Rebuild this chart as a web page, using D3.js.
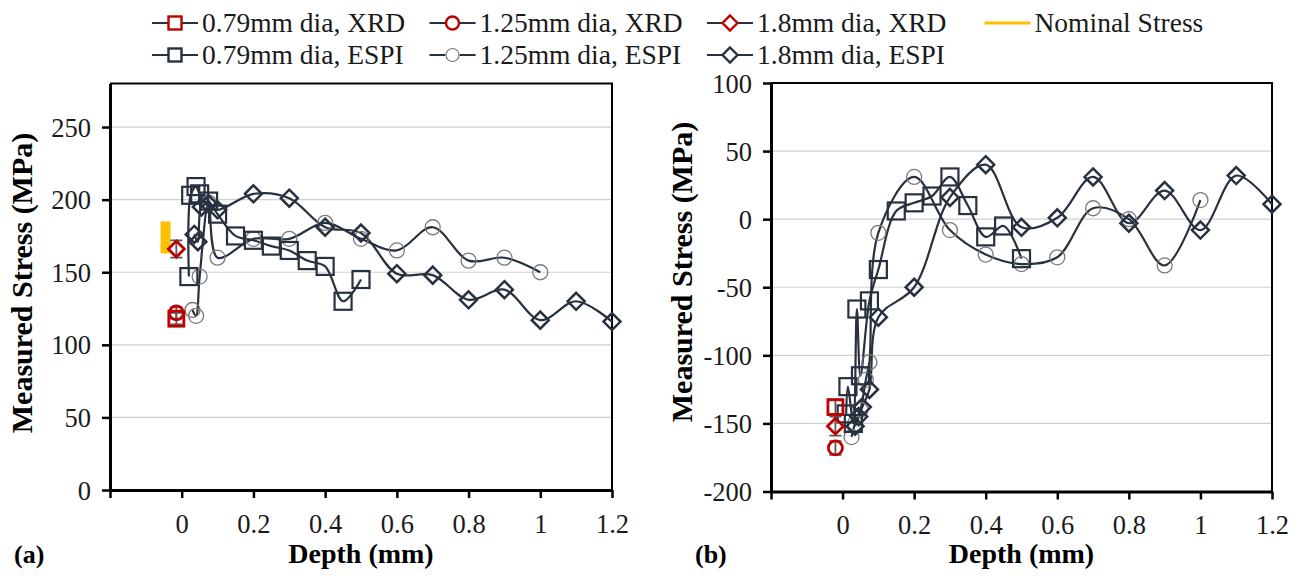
<!DOCTYPE html>
<html>
<head>
<meta charset="utf-8">
<script src="https://cdn.jsdelivr.net/npm/d3@7"></script>
<style>
  html, body { margin: 0; padding: 0; background: #fff; }
  svg { display: block; }
  svg text { font-family: "Liberation Serif", "Times New Roman", serif; }
</style>
</head>
<body>
<svg id="chart" width="1301" height="576"></svg>
<script>
// ---- Data -------------------------------------------------------------
const xTicks = [-0.2, 0, 0.2, 0.4, 0.6, 0.8, 1, 1.2];
const yTicksA = [0, 50, 100, 150, 200, 250];
const yTicksB = [-200, -150, -100, -50, 0, 50, 100];

// Panel (a) — depth (mm), measured stress (MPa)
const a_xrd079 = [{x: -0.015, y: 118, e: 4}];
const a_xrd125 = [{x: -0.015, y: 122, e: 4}];
const a_xrd18  = [{x: -0.015, y: 166, e: 6}];
const a_nominal = [{x: -0.045, y: 163}, {x: -0.045, y: 185}];
const a_espi079 = [[0.02,147],[0.025,203],[0.04,209],[0.05,204],[0.075,199],[0.1,190],[0.15,175],[0.2,172],
                   [0.25,168],[0.3,165],[0.35,158],[0.4,154],[0.45,130],[0.5,145]];
const a_espi125 = [[0.03,124],[0.04,120],[0.05,147],[0.075,198],[0.1,160],[0.2,173],[0.3,173],[0.4,184],
                   [0.5,173],[0.6,165],[0.7,181],[0.8,158],[0.9,160],[1.0,150]];
const a_espi18  = [[0.035,176],[0.045,171],[0.055,195],[0.075,197],[0.1,193],[0.2,204],[0.3,201],[0.4,181],
                   [0.5,177],[0.6,149],[0.7,148],[0.8,131],[0.9,138],[1.0,117],[1.1,130],[1.2,116]];

// Panel (b)
const b_xrd079 = [{x: -0.02, y: -138, e: 5}];
const b_xrd125 = [{x: -0.02, y: -168, e: 5}];
const b_xrd18  = [{x: -0.02, y: -152, e: 7}];
const b_espi079 = [[0.01,-143],[0.015,-123],[0.03,-150],[0.04,-66],[0.05,-115],[0.075,-60],[0.1,-37],
                   [0.15,6],[0.2,12],[0.25,17],[0.3,31],[0.35,10],[0.4,-13],[0.45,-5],[0.5,-29]];
const b_espi125 = [[0.025,-160],[0.035,-150],[0.05,-140],[0.065,-118],[0.075,-105],[0.1,-10],[0.2,31],
                   [0.3,-8],[0.4,-26],[0.5,-33],[0.6,-28],[0.7,8],[0.8,0],[0.9,-34],[1.0,14]];
const b_espi18  = [[0.035,-152],[0.045,-145],[0.055,-138],[0.075,-125],[0.1,-72],[0.2,-50],[0.3,16],
                   [0.4,40],[0.5,-6],[0.6,1],[0.7,31],[0.8,-3],[0.9,21],[1.0,-8],[1.1,32],[1.2,11]];

const legendLabels = ["0.79mm dia, XRD", "1.25mm dia, XRD", "1.8mm dia, XRD", "Nominal Stress",
                      "0.79mm dia, ESPI", "1.25mm dia, ESPI", "1.8mm dia, ESPI"];

// ---- Styles -----------------------------------------------------------
const DARK = "#27313f";
const GREY = "#7a7a7a";
const RED = "#c00000";
const ORANGE = "#ffc000";

const svg = d3.select("#chart");

// marker drawing
function marker(g, type, cx, cy, color, size, sw) {
  if (type === "square") {
    g.append("rect").attr("x", cx - size / 2).attr("y", cy - size / 2)
      .attr("width", size).attr("height", size)
      .attr("fill", "none").attr("stroke", color).attr("stroke-width", sw);
  } else if (type === "circle") {
    g.append("circle").attr("cx", cx).attr("cy", cy).attr("r", size / 2)
      .attr("fill", "none").attr("stroke", color).attr("stroke-width", sw);
  } else if (type === "diamond") {
    const h = size / 2;
    g.append("path").attr("d", `M${cx},${cy - h}L${cx + h},${cy}L${cx},${cy + h}L${cx - h},${cy}Z`)
      .attr("fill", "none").attr("stroke", color).attr("stroke-width", sw);
  }
}

function panel(cfg) {
  const x = d3.scaleLinear().domain([-0.2, 1.2]).range([cfg.left, cfg.right]);
  const y = d3.scaleLinear().domain(cfg.yDomain).range([cfg.bottom, cfg.top]);
  const g = svg.append("g");

  // gridlines
  g.selectAll("line.grid").data(cfg.yTicks.filter(v => v !== cfg.yDomain[0]))
    .join("line").attr("class", "grid")
    .attr("x1", cfg.left).attr("x2", cfg.right)
    .attr("y1", d => y(d)).attr("y2", d => y(d))
    .attr("stroke", "#d0d0d0").attr("stroke-width", 1.2);

  // plot-area border (top and right)
  g.append("path")
    .attr("d", `M${cfg.left},${cfg.top}H${cfg.right}V${cfg.bottom}`)
    .attr("fill", "none").attr("stroke", "#000").attr("stroke-width", 2);

  // axes
  const xAxis = d3.axisBottom(x).tickValues(xTicks).tickSize(8).tickSizeOuter(0)
    .tickFormat(d => d < 0 ? "" : String(+d.toFixed(1)));
  const gx = g.append("g").attr("transform", `translate(0,${cfg.bottom})`).call(xAxis);
  const yAxis = d3.axisLeft(y).tickValues(cfg.yTicks).tickSize(8).tickSizeOuter(0)
    .tickFormat(d => String(d));
  const gy = g.append("g").attr("transform", `translate(${cfg.left},0)`).call(yAxis);
  [gx, gy].forEach(ax => {
    ax.attr("font-family", null).attr("font-size", null);
    ax.select(".domain").attr("stroke", "#000").attr("stroke-width", 3);
    ax.selectAll(".tick line").attr("stroke", "#000").attr("stroke-width", 2.5);
    ax.selectAll(".tick text").attr("font-size", 26.5).attr("fill", "#1a1a1a");
  });
  gx.selectAll(".tick text").attr("dy", "1.2em");
  gy.selectAll(".tick text").attr("dx", "-0.3em").attr("dy", "0.34em");

  // axis titles
  g.append("text").attr("x", (cfg.left + cfg.right) / 2).attr("y", 563)
    .attr("text-anchor", "middle").attr("font-size", 28).attr("font-weight", "bold")
    .text("Depth (mm)");
  g.append("text")
    .attr("transform", `translate(${cfg.yTitleX},${cfg.yTitleY}) rotate(-90)`)
    .attr("text-anchor", "middle").attr("font-size", 30).attr("font-weight", "bold")
    .text("Measured Stress (MPa)");
  g.append("text").attr("x", cfg.tagX).attr("y", 563)
    .attr("font-size", 26).attr("font-weight", "bold").text(cfg.tag);

  const line = d3.line().x(d => x(d[0])).y(d => y(d[1])).curve(d3.curveCatmullRom.alpha(0.5));

  // nominal stress band
  if (cfg.nominal) {
    g.append("path").datum(cfg.nominal.map(d => [d.x, d.y]))
      .attr("d", d3.line().x(d => x(d[0])).y(d => y(d[1])))
      .attr("stroke", ORANGE).attr("stroke-width", 10).attr("fill", "none");
  }

  // ESPI series
  const espi = [
    {data: cfg.espi125, type: "circle", color: GREY, size: 15, sw: 1.3},
    {data: cfg.espi079, type: "square", color: DARK, size: 17, sw: 2.2},
    {data: cfg.espi18, type: "diamond", color: DARK, size: 17, sw: 2.5}
  ];
  espi.forEach(s => {
    g.append("path").datum(s.data).attr("d", line)
      .attr("fill", "none").attr("stroke", DARK).attr("stroke-width", 2.2);
  });
  espi.forEach(s => {
    s.data.forEach(d => marker(g, s.type, x(d[0]), y(d[1]), s.color, s.size, s.sw));
  });

  // XRD points with error bars
  const xrd = [
    {data: cfg.xrd079, type: "square", size: 15},
    {data: cfg.xrd125, type: "circle", size: 14},
    {data: cfg.xrd18, type: "diamond", size: 16}
  ];
  xrd.forEach(s => s.data.forEach(d => {
    const cx = x(d.x), y0 = y(d.y - d.e), y1 = y(d.y + d.e);
    g.append("path").attr("d", `M${cx},${y0}V${y1}M${cx - 6},${y0}H${cx + 6}M${cx - 6},${y1}H${cx + 6}`)
      .attr("stroke", "#595959").attr("stroke-width", 1.8).attr("fill", "none");
  }));
  xrd.forEach(s => s.data.forEach(d => marker(g, s.type, x(d.x), y(d.y), RED, s.size, 2.8)));
}

panel({
  left: 110, right: 612, top: 83.5, bottom: 490, yDomain: [0, 280], yTicks: yTicksA,
  espi079: a_espi079, espi125: a_espi125, espi18: a_espi18,
  xrd079: a_xrd079, xrd125: a_xrd125, xrd18: a_xrd18, nominal: a_nominal,
  yTitleX: 32, yTitleY: 283, tag: "(a)", tagX: 14
});
panel({
  left: 771, right: 1272, top: 83, bottom: 491.5, yDomain: [-200, 100], yTicks: yTicksB,
  espi079: b_espi079, espi125: b_espi125, espi18: b_espi18,
  xrd079: b_xrd079, xrd125: b_xrd125, xrd18: b_xrd18, nominal: null,
  yTitleX: 692, yTitleY: 272, tag: "(b)", tagX: 695
});

// ---- Legend -----------------------------------------------------------
const legendItems = [
  {label: legendLabels[0], type: "square", color: RED, col: 0, row: 0},
  {label: legendLabels[1], type: "circle", color: RED, col: 1, row: 0},
  {label: legendLabels[2], type: "diamond", color: RED, col: 2, row: 0},
  {label: legendLabels[3], type: "nominal", color: ORANGE, col: 3, row: 0},
  {label: legendLabels[4], type: "square", color: DARK, col: 0, row: 1},
  {label: legendLabels[5], type: "circle", color: GREY, col: 1, row: 1},
  {label: legendLabels[6], type: "diamond", color: DARK, col: 2, row: 1}
];
const lg = svg.append("g");
legendItems.forEach(it => {
  const x0 = 152 + it.col * 277.5;
  const yc = it.row === 0 ? 23 : 55;
  if (it.type === "nominal") {
    lg.append("line").attr("x1", x0).attr("x2", x0 + 46).attr("y1", yc).attr("y2", yc)
      .attr("stroke", ORANGE).attr("stroke-width", 3);
  } else {
    lg.append("line").attr("x1", x0).attr("x2", x0 + 46).attr("y1", yc).attr("y2", yc)
      .attr("stroke", DARK).attr("stroke-width", 2);
    const sw = it.color === GREY ? 1.2 : 2.4;
    lg.append("rect").attr("x", x0 + 23 - 7).attr("y", yc - 7).attr("width", 14).attr("height", 14)
      .attr("fill", "#fff").attr("stroke", "none");
    marker(lg, it.type, x0 + 23, yc, it.color, it.type === "diamond" ? 15 : 13, sw);
  }
  lg.append("text").attr("x", x0 + 50).attr("y", yc).attr("dy", "0.34em")
    .attr("font-size", 27.5).attr("fill", "#1a1a1a").text(it.label);
});
</script>
</body>
</html>
